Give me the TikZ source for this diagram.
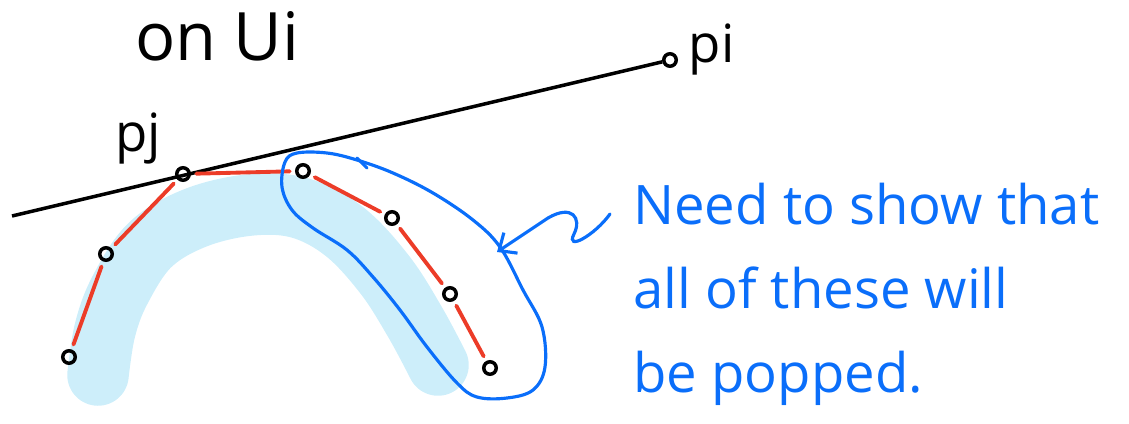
\documentclass[tikz,border=0pt]{standalone}
\usepackage{fontspec}
\setmainfont{Open Sans}
\usepackage{tikz}
\usetikzlibrary{positioning, arrows.meta}
\definecolor{inkred}{RGB}{236,60,40}
\definecolor{inkblue}{RGB}{10,110,250}
\definecolor{haze}{RGB}{205,238,250}

\begin{document}
\begin{tikzpicture}[x=0.02cm, y=-0.02cm, node distance=6pt,
    pt/.style={circle, draw, line width=2pt, inner sep=0pt, minimum size=0.25cm},
    hull/.style={draw=inkred, line width=2.2pt, line cap=round, shorten >=3pt, shorten <=3pt},
    ink/.style={inner sep=0pt, font=\fontsize{30}{36}\selectfont}]
    \useasboundingbox (0,0) rectangle (1129,423);
    \draw[haze, line width=35pt, line cap=round, line join=round] plot[smooth, tension=0.6] coordinates {(98,375) (105,330) (120,290) (150,245) (195,218) (250,205) (300,208) (345,232) (385,275) (415,322) (438,365)};

    \node (pa) [pt] at (69,357) {};
    \node (pb) [pt] at (106,254) {};
    \node (pj) [pt] at (183,174) {};
    \node (pc) [pt] at (303,171) {};
    \node (pd) [pt] at (392,218) {};
    \node (pe) [pt] at (450,294) {};
    \node (pf) [pt] at (490,368) {};
    \node (pi) [pt] at (670,60) {};
    \coordinate (start) at (12,216);

    \draw[line width=2pt] (start) -- (pi);
    \draw[hull] (pa) -- (pb);
    \draw[hull] (pb) -- (pj);
    \draw[hull] (pj) -- (pc);
    \draw[hull] (pc) -- (pd);
    \draw[hull] (pd) -- (pe);
    \draw[hull] (pe) -- (pf);

    \draw[inkblue, line width=1.8pt] plot[smooth cycle, tension=0.6] coordinates {(282,187) (285,162) (297,153) (327,153) (357,160) (393,173) (433,193) (473,220) (500,247) (523,290) (542,327) (545,367) (533,390) (507,398) (477,397) (457,383) (427,347) (400,310) (373,277) (347,250) (313,228) (292,210)};
    \draw[inkblue, line width=1.8pt, line cap=round] (357,158) -- (367,168);

    \coordinate (squig) at (610,214);
    \coordinate (looptip) at (497,252);
    \draw[inkblue, line width=1.8pt, line cap=round, -{Straight Barb[length=8pt, width=14pt]}] (squig) .. controls (595,235) and (565,252) .. (574,234) .. controls (582,218) and (572,204) .. (548,218) -- (looptip);

    \node (pilabel) [ink, right=of pi, yshift=6pt] {pi};
    \node (pjlabel) [ink] at (138,138) {pj};
    \node (title) [ink, font=\fontsize{38}{44}\selectfont, anchor=base west] at (135,60) {on Ui};
    \node (note) [ink, text=inkblue, align=left, anchor=base west, font=\fontsize{31}{47.6}\selectfont] at (633,392) {Need to show that\\all of these will\\be popped.};
\end{tikzpicture}
\end{document}
